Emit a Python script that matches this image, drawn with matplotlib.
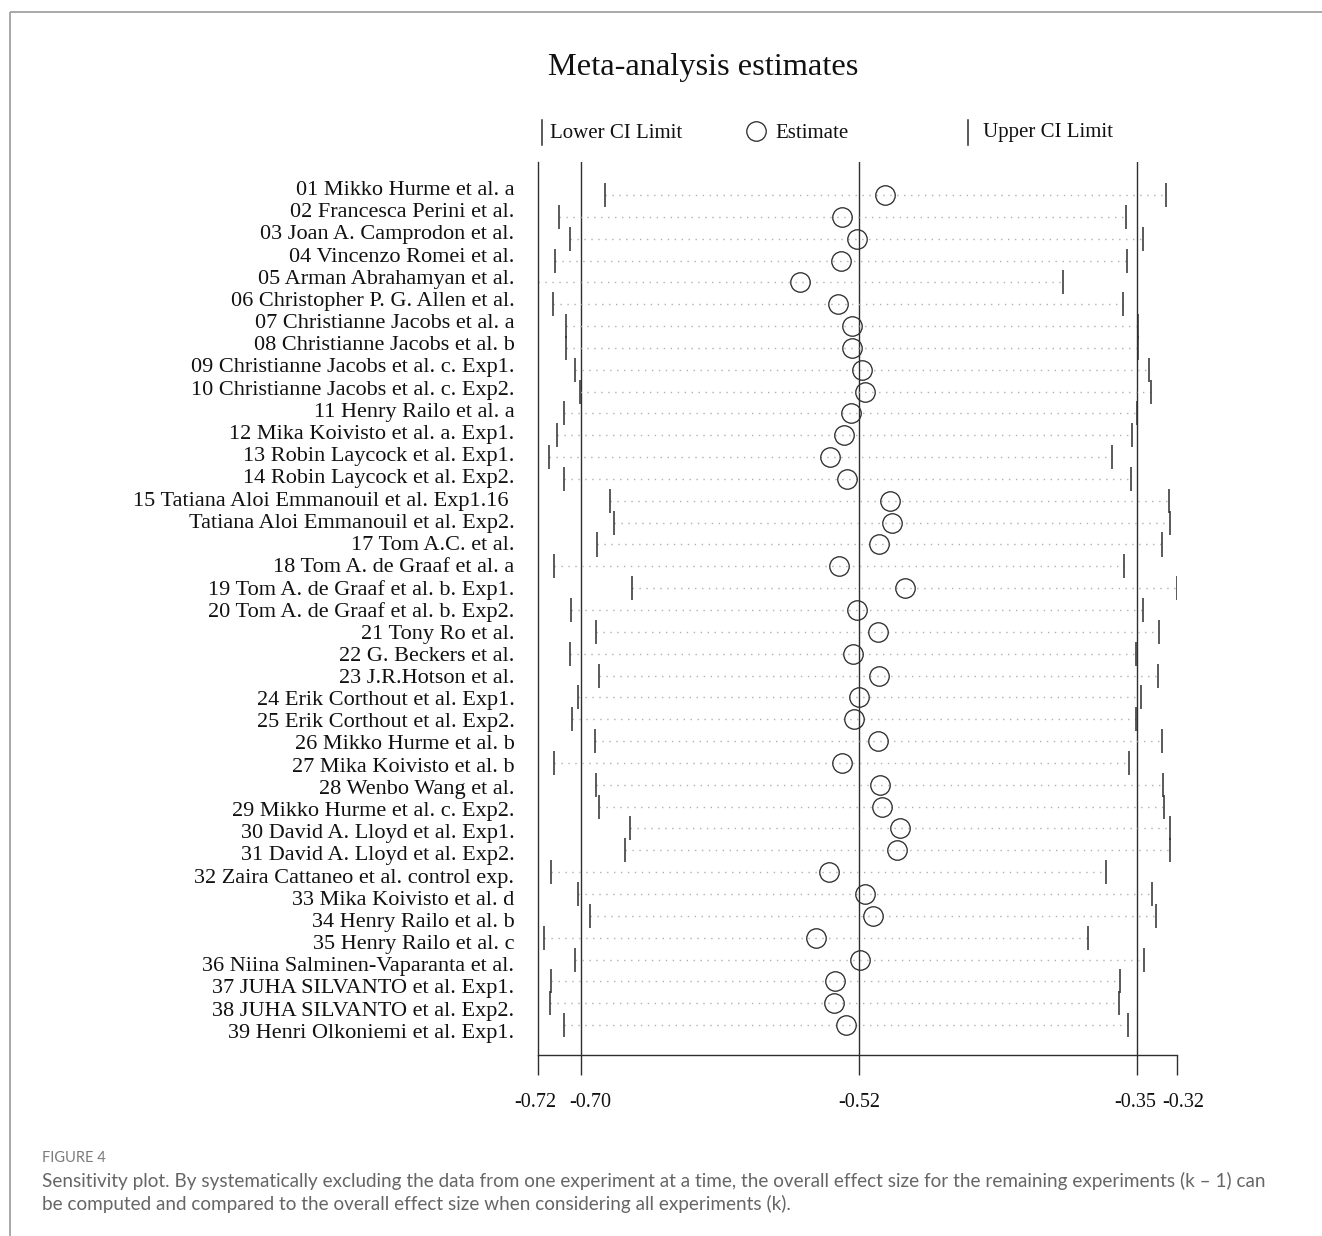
import matplotlib
matplotlib.use("Agg")
import matplotlib.pyplot as plt
from matplotlib.ticker import FixedLocator, FormatStrFormatter
from matplotlib.transforms import ScaledTranslation

# Leave-one-out sensitivity analysis: pooled estimate and 95% CI after omitting each study
studies = [
    "01 Mikko Hurme et al. a",
    "02 Francesca Perini et al.",
    "03 Joan A. Camprodon et al.",
    "04 Vincenzo Romei et al.",
    "05 Arman Abrahamyan et al.",
    "06 Christopher P. G. Allen et al.",
    "07 Christianne Jacobs et al. a",
    "08 Christianne Jacobs et al. b",
    "09 Christianne Jacobs et al. c. Exp1.",
    "10 Christianne Jacobs et al. c. Exp2.",
    "11 Henry Railo et al. a",
    "12 Mika Koivisto et al. a. Exp1.",
    "13 Robin Laycock et al. Exp1.",
    "14 Robin Laycock et al. Exp2.",
    "15 Tatiana Aloi Emmanouil et al. Exp1.16 ",
    "Tatiana Aloi Emmanouil et al. Exp2.",
    "17 Tom A.C. et al.",
    "18 Tom A. de Graaf et al. a",
    "19 Tom A. de Graaf et al. b. Exp1.",
    "20 Tom A. de Graaf et al. b. Exp2.",
    "21 Tony Ro et al.",
    "22 G. Beckers et al.",
    "23 J.R.Hotson et al.",
    "24 Erik Corthout et al. Exp1.",
    "25 Erik Corthout et al. Exp2.",
    "26 Mikko Hurme et al. b",
    "27 Mika Koivisto et al. b",
    "28 Wenbo Wang et al.",
    "29 Mikko Hurme et al. c. Exp2.",
    "30 David A. Lloyd et al. Exp1.",
    "31 David A. Lloyd et al. Exp2.",
    "32 Zaira Cattaneo et al. control exp.",
    "33 Mika Koivisto et al. d",
    "34 Henry Railo et al. b",
    "35 Henry Railo et al. c",
    "36 Niina Salminen-Vaparanta et al.",
    "37 JUHA SILVANTO et al. Exp1.",
    "38 JUHA SILVANTO et al. Exp2.",
    "39 Henri Olkoniemi et al. Exp1.",
]

lower = [
    -0.6816, -0.7104, -0.7035, -0.7129, -0.7235, -0.7139, -0.7062, -0.7058,
    -0.7005, -0.6974, -0.7072, -0.7116, -0.7168, -0.7072, -0.6784, -0.6759,
    -0.6866, -0.7133, -0.6645, -0.7030, -0.6872, -0.7037, -0.6855, -0.6987,
    -0.7024, -0.6880, -0.7133, -0.6872, -0.6851, -0.6657, -0.6690, -0.7156,
    -0.6987, -0.6911, -0.7196, -0.7003, -0.7152, -0.7158, -0.7072,
]

estimate = [
    -0.5063, -0.5330, -0.5240, -0.5338, -0.5593, -0.5355, -0.5271, -0.5268,
    -0.5209, -0.5188, -0.5276, -0.5320, -0.5407, -0.5299, -0.5033, -0.5019,
    -0.5099, -0.5351, -0.4938, -0.5238, -0.5109, -0.5265, -0.5102, -0.5224,
    -0.5259, -0.5105, -0.5334, -0.5096, -0.5084, -0.4969, -0.4988, -0.5415,
    -0.5190, -0.5138, -0.5495, -0.5219, -0.5374, -0.5382, -0.5309,
]

upper = [
    -0.3306, -0.3556, -0.3446, -0.3548, -0.3951, -0.3575, -0.3481, -0.3479,
    -0.3412, -0.3400, -0.3484, -0.3517, -0.3642, -0.3523, -0.3283, -0.3279,
    -0.3329, -0.3569, -0.3235, -0.3450, -0.3346, -0.3492, -0.3352, -0.3460,
    -0.3492, -0.3329, -0.3534, -0.3321, -0.3316, -0.3279, -0.3281, -0.3678,
    -0.3392, -0.3367, -0.3794, -0.3440, -0.3592, -0.3600, -0.3544,
]

# Pooled estimate using all studies
overall_lower = -0.6968
overall_estimate = -0.5226
overall_upper = -0.3485

title = "Meta-analysis estimates"
caption_head = "FIGURE 4"
caption_lines = [
    "Sensitivity plot. By systematically excluding the data from one experiment at a time, "
    "the overall effect size for the remaining experiments (k \u2013 1) can",
    "be computed and compared to the overall effect size when considering all experiments (k).",
]

SERIF = ["Liberation Serif", "DejaVu Serif"]
DARK = "#2e2e2e"

W, H = 1322, 1236
fig = plt.figure(figsize=(W / 100, H / 100), dpi=100)
fig.patch.set_facecolor("white")


def px_box(x0, y0, x1, y1):
    return [x0 / W, 1 - y1 / H, (x1 - x0) / W, (y1 - y0) / H]


rows = list(range(1, len(studies) + 1))

# ---- main plot -------------------------------------------------------------
ax = fig.add_axes(px_box(538, 162, 1177, 1055))
ax.set_xlim(min(lower), max(upper))
ax.set_ylim(40.37, -0.51)

ax.hlines(rows, lower, upper, colors="#b0b0b0", linestyles=(0, (1, 4)), lw=1.0)
ax.vlines(lower, [r - 0.55 for r in rows], [r + 0.55 for r in rows],
          colors=DARK, lw=1.1)
ax.vlines(upper, [r - 0.55 for r in rows], [r + 0.55 for r in rows],
          colors=DARK, lw=1.1)
for v in (overall_lower, overall_estimate, overall_upper):
    ax.axvline(v, color=DARK, lw=1.0, zorder=1)
ax.plot(estimate, rows, linestyle="none", marker="o", markersize=14,
        markerfacecolor="none", markeredgecolor=DARK, markeredgewidth=0.95,
        zorder=3)

for side in ("top", "right"):
    ax.spines[side].set_visible(False)
for side in ("left", "bottom"):
    ax.spines[side].set_color(DARK)
    ax.spines[side].set_linewidth(1.0)

ax.xaxis.set_major_locator(FixedLocator(
    [min(lower), overall_lower, overall_estimate, overall_upper, max(upper)]))
ax.xaxis.set_major_formatter(FormatStrFormatter("%.2f"))
ax.tick_params(axis="x", direction="out", length=14.5, width=1.0, color=DARK,
               pad=13, labelsize=14.5)
# nudge crowded neighbouring tick labels apart
label_shift_px = [-3, 10, 0, -2, 6]
for lab, dx in zip(ax.get_xticklabels(), label_shift_px):
    lab.set_fontfamily(SERIF)
    lab.set_color("#111111")
    lab.set_transform(lab.get_transform()
                      + ScaledTranslation(dx / 100, 0, fig.dpi_scale_trans))
ax.set_yticks([])

# ---- study labels ----------------------------------------------------------
axl = fig.add_axes(px_box(538, 162, 1177, 1055), frameon=False)
axl.set_ylim(40.09, -0.172)
axl.set_xticks([])
axl.set_yticks(rows)
axl.set_yticklabels(studies)
axl.tick_params(axis="y", length=0, pad=17, labelsize=16)
for lab in axl.get_yticklabels():
    lab.set_fontfamily(SERIF)
    lab.set_color("#111111")

# ---- title, key, frame and caption (pixel coordinates) ---------------------
top = fig.add_axes([0, 0, 1, 1], frameon=False)
top.set_xlim(0, W)
top.set_ylim(H, 0)
top.set_xticks([])
top.set_yticks([])
top.patch.set_alpha(0)

top.text(703, 68, title, ha="center", va="center", fontsize=23.3,
         family=SERIF, color="#111111")

top.plot([542, 542], [120, 145], color=DARK, lw=1.1)
top.text(550, 133, "Lower CI Limit", ha="left", va="center", fontsize=15,
         family=SERIF, color="#111111")
top.plot([756], [131], marker="o", markersize=14, markerfacecolor="none",
         markeredgecolor=DARK, markeredgewidth=0.95)
top.text(775, 133, "Estimate", ha="left", va="center", fontsize=15,
         family=SERIF, color="#111111")
top.plot([968, 968], [120, 145], color=DARK, lw=1.1)
top.text(983, 133, "Upper CI Limit", ha="left", va="center", fontsize=15,
         family=SERIF, color="#111111")

top.plot([10, W], [12, 12], color="#a8a8a8", lw=1.4, solid_capstyle="butt")
top.plot([10, 10], [12, H], color="#a8a8a8", lw=1.4, solid_capstyle="butt")

top.text(42, 1158, caption_head, ha="left", va="center", fontsize=10.5,
         family=["Lato", "DejaVu Sans"], color="#7a7a7a")
for i, line in enumerate(caption_lines):
    top.text(42, 1181 + 23 * i, line, ha="left", va="center", fontsize=13.6,
             family=["Lato", "DejaVu Sans"], color="#666666")

fig.savefig("out.png", dpi=100, facecolor="white")
